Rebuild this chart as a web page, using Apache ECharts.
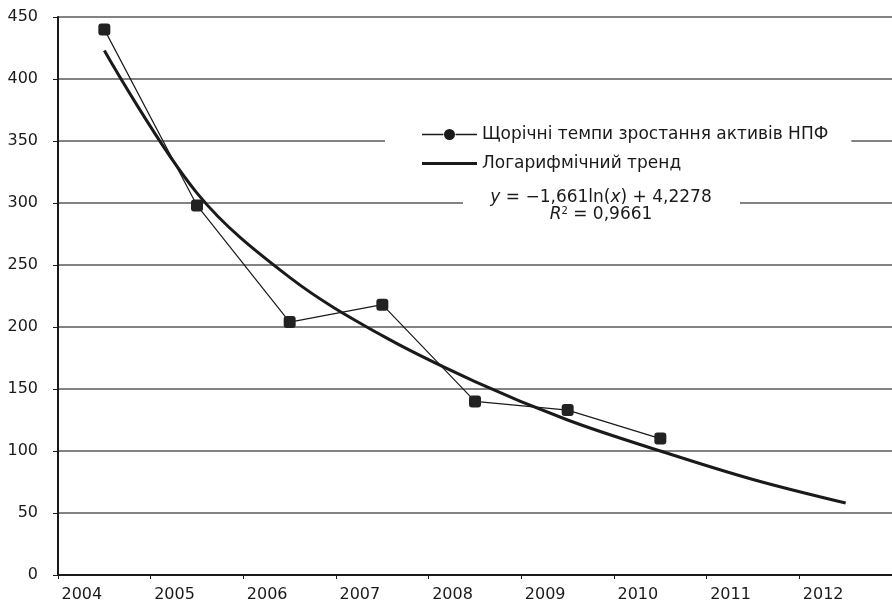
<!DOCTYPE html>
<html>
<head>
<meta charset="utf-8">
<script src="https://cdn.jsdelivr.net/npm/echarts@6/dist/echarts.min.js"></script>
<style>html,body{margin:0;padding:0;background:#fff}#c{width:892px;height:608px}</style>
</head>
<body>
<div id="c"></div>
<script>
const years = ['2004','2005','2006','2007','2008','2009','2010','2011','2012'];
const growthValues = [440, 298, 204, 218, 140, 133, 110, null, null];
const trendValues = [423, 308, 240, 193, 156, 125, 100, 77, 58];
const seriesNames = ['Щорічні темпи зростання активів НПФ', 'Логарифмічний тренд'];
const yTicks = [0, 450, 50];

const FONT = '"DejaVu Sans", "Liberation Sans", Arial, sans-serif';
const INK = '#1a1a1a';
const chart = echarts.init(document.getElementById('c'));
chart.setOption({
  backgroundColor: '#fff',
  animation: false,
  grid: { left: 58, top: 17, width: 837, height: 558, containLabel: false },
  xAxis: {
    type: 'category',
    data: years,
    boundaryGap: true,
    axisLine: { lineStyle: { color: INK, width: 2 } },
    axisTick: { show: true, length: 4, lineStyle: { color: INK, width: 1 } },
    axisLabel: { color: INK, fontFamily: FONT, fontSize: 16, margin: 12, padding: [0, 45, 0, 0] },
    splitLine: { show: false }
  },
  yAxis: {
    type: 'value',
    min: yTicks[0], max: yTicks[1], interval: yTicks[2],
    axisLine: { show: true, lineStyle: { color: INK, width: 2 } },
    axisTick: { show: true, length: 5, lineStyle: { color: INK, width: 1 } },
    axisLabel: { color: INK, fontFamily: FONT, fontSize: 16, margin: 20 },
    splitLine: { show: true, lineStyle: { color: '#5a5a5a', width: 1.5 } }
  },
  legend: {
    orient: 'vertical',
    left: 385, top: 122,
    padding: [4, 23, 4, 37],
    itemGap: 12,
    itemWidth: 55, itemHeight: 12,
    backgroundColor: '#fff',
    textStyle: { color: INK, fontFamily: FONT, fontSize: 17 },
    data: [{
      name: seriesNames[0],
      icon: 'path://M0,5.2 L21.5,5.2 L21.5,6.8 L0,6.8 Z M33.5,5.2 L55,5.2 L55,6.8 L33.5,6.8 Z M22,6 a5.5,5.5 0 1,0 11,0 a5.5,5.5 0 1,0 -11,0 Z',
      itemStyle: { color: INK }
    }, {
      name: seriesNames[1],
      icon: 'path://M0,0 L55,0 L55,3 L0,3 Z',
      itemStyle: { color: INK }
    }]
  },
  graphic: [{
    type: 'rect',
    shape: { x: 463, y: 188, width: 277, height: 38 },
    style: { fill: '#fff' },
    z: 99
  }, {
    type: 'text',
    x: 601, y: 189,
    z: 100,
    style: {
      text: '{i|y} = −1,661ln({i|x}) + 4,2278\n{i|R}{s|2} = 0,9661',
      align: 'center',
      verticalAlign: 'top',
      fill: INK,
      font: '17px ' + FONT,
      lineHeight: 17,
      rich: {
        i: { fontStyle: 'italic', fontFamily: FONT, fontSize: 17, fill: INK, lineHeight: 17 },
        s: { fontSize: 10, fontFamily: FONT, verticalAlign: 'top', fill: INK, lineHeight: 17, padding: [0, 0, 6, 0] }
      }
    }
  }],
  series: [{
    name: seriesNames[0],
    type: 'line',
    data: growthValues,
    symbol: 'roundRect',
    symbolSize: 12,
    lineStyle: { color: INK, width: 1.2 },
    itemStyle: { color: '#222' },
    z: 3
  }, {
    name: seriesNames[1],
    type: 'line',
    data: trendValues,
    smooth: 0.35,
    symbol: 'none',
    lineStyle: { color: INK, width: 3 },
    itemStyle: { color: INK },
    z: 2
  }]
});
</script>
</body>
</html>
